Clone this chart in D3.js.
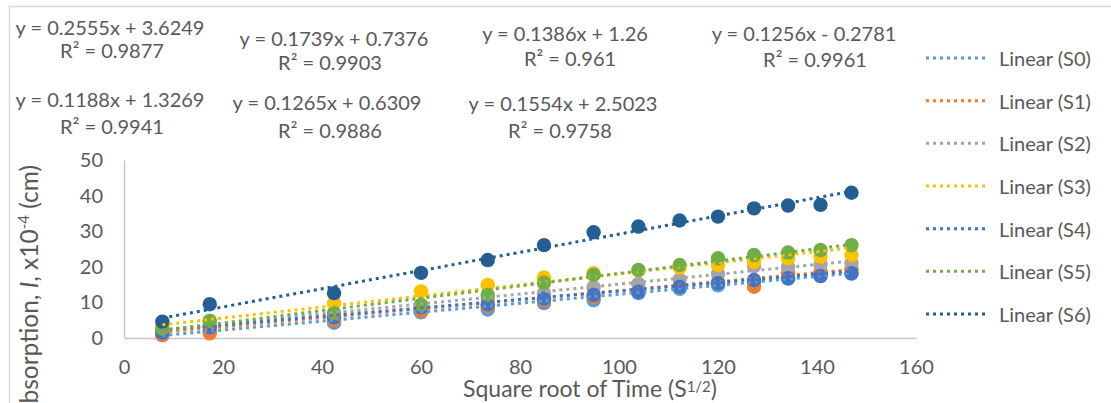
<!DOCTYPE html>
<html>
<head>
<meta charset="utf-8">
<script src="https://cdn.jsdelivr.net/npm/d3@7"></script>
<style>
  html, body { margin: 0; padding: 0; background: #ffffff; }
  svg { display: block; }
  text { font-family: Lato, "Open Sans", sans-serif; fill: #595959; }
</style>
</head>
<body>
<svg id="chart" width="1111" height="403"></svg>
<script>
// Square root of elapsed time (s^1/2) at each reading
const sqrtTime = [7.75, 17.32, 42.43, 60, 73.48, 84.85, 94.87, 103.92, 112.25, 120, 127.28, 134.16, 140.71, 146.97];

// Absorption I (x10^-4 cm) per specimen
const seriesNames = ["S0", "S1", "S2", "S3", "S4", "S5", "S6"];
const s0 = [0.9, 1.9, 4.3, 7.2, 8.0, 9.8, 10.6, 12.6, 13.8, 14.8, 15.8, 16.7, 17.5, 18.1];
const s1 = [0.8, 1.3, 5.0, 7.6, 9.0, 10.6, 11.6, 13.2, 14.5, 15.6, 14.4, 18.3, 18.6, 19.3];
const s2 = [1.8, 3.4, 6.3, 9.0, 11.0, 12.6, 14.2, 15.2, 16.4, 18.0, 20.2, 20.0, 20.6, 21.0];
const s3 = [3.5, 4.8, 9.8, 13.1, 14.9, 17.0, 18.2, 19.0, 19.8, 20.5, 21.4, 22.4, 22.8, 23.3];
const s4 = [1.5, 3.0, 5.8, 8.6, 9.5, 11.1, 12.1, 13.0, 14.4, 15.4, 16.3, 16.8, 17.4, 18.2];
const s5 = [2.6, 4.8, 7.0, 9.3, 12.1, 15.5, 17.7, 19.1, 20.5, 22.4, 23.3, 24.0, 24.7, 26.1];
const s6 = [4.6, 9.5, 12.6, 18.3, 21.9, 26.1, 29.7, 31.3, 33.0, 34.1, 36.4, 37.2, 37.4, 40.8];
const seriesValues = [s0, s1, s2, s3, s4, s5, s6];

// Linear trend fits (slope, intercept, R²) per specimen
const slopes     = [0.1256, 0.1265, 0.1386, 0.1554, 0.1188, 0.1739, 0.2555];
const intercepts = [-0.2781, 0.6309, 1.26, 2.5023, 1.3269, 0.7376, 3.6249];
const rSquared   = ["0.9961", "0.9886", "0.961", "0.9758", "0.9941", "0.9903", "0.9877"];

const colors = ["#5B9BD5", "#ED7D31", "#A5A5A5", "#FFC000", "#4472C4", "#70AD47", "#255E91"];

const xTicks = [0, 20, 40, 60, 80, 100, 120, 140, 160];
const yTicks = [0, 10, 20, 30, 40, 50];

// Where each equation / R² pair sits (centre of each line of text)
const labelPos = {
  S6: { x: 110, y: 27, rx: 112, ry: 50 },
  S5: { x: 334, y: 38, rx: 330, ry: 62 },
  S2: { x: 565, y: 33, rx: 570, ry: 58 },
  S0: { x: 804, y: 33, rx: 815, ry: 59 },
  S4: { x: 110, y: 99, rx: 112, ry: 126 },
  S1: { x: 327, y: 102, rx: 330, ry: 130 },
  S3: { x: 563, y: 103, rx: 560, ry: 130 }
};

const svg = d3.select("#chart");
const plot = { left: 124, right: 916, top: 160, bottom: 338 };

const x = d3.scaleLinear().domain([0, 160]).range([plot.left, plot.right]);
const y = d3.scaleLinear().domain([0, 50]).range([plot.bottom, plot.top]);

// Chart frame (only the top and left edges fall inside the view)
svg.append("rect")
  .attr("x", 9.5).attr("y", 6.5)
  .attr("width", 1200).attr("height", 500)
  .attr("fill", "none").attr("stroke", "#d9d9d9").attr("stroke-width", 1.5);

// Axes
const xAxis = svg.append("g")
  .attr("transform", `translate(0,${plot.bottom})`)
  .call(d3.axisBottom(x).tickValues(xTicks).tickSize(0).tickPadding(22).tickFormat(d3.format("d")));
const yAxis = svg.append("g")
  .attr("transform", `translate(${plot.left},0)`)
  .call(d3.axisLeft(y).tickValues(yTicks).tickSize(0).tickPadding(21).tickFormat(d3.format("d")));

[xAxis, yAxis].forEach(g => {
  g.select(".domain").attr("stroke", "#c6c6c6").attr("stroke-width", 1.5);
  g.selectAll(".tick text").style("font-size", "20px").attr("fill", "#595959");
});

// Axis titles
const xTitle = svg.append("text")
  .attr("x", 590).attr("y", 397)
  .attr("text-anchor", "middle")
  .style("font-size", "23px");
xTitle.append("tspan").text("Square root of Time (S");
xTitle.append("tspan").attr("baseline-shift", "35%").style("font-size", "15px").text("1/2");
xTitle.append("tspan").text(")");

const yTitle = svg.append("text")
  .attr("transform", "translate(38,165) rotate(-90)")
  .attr("text-anchor", "end")
  .style("font-size", "24.5px");
yTitle.append("tspan").text("Absorption, ");
yTitle.append("tspan").style("font-style", "italic").text("I");
yTitle.append("tspan").text(", x10");
yTitle.append("tspan").attr("baseline-shift", "super").style("font-size", "15px").text("-4");
yTitle.append("tspan").text(" (cm)");

// Observed points
seriesValues.forEach((vals, i) => {
  svg.append("g")
    .selectAll("circle")
    .data(vals.map((v, j) => [sqrtTime[j], v]))
    .join("circle")
    .attr("cx", d => x(d[0]))
    .attr("cy", d => y(d[1]))
    .attr("r", 7.2)
    .attr("fill", colors[i]);
});

// Linear trend lines over the data range
const xMin = d3.min(sqrtTime), xMax = d3.max(sqrtTime);
const line = d3.line().x(d => x(d[0])).y(d => y(d[1]));
seriesNames.forEach((name, i) => {
  const pts = [xMin, xMax].map(t => [t, slopes[i] * t + intercepts[i]]);
  svg.append("path")
    .attr("d", line(pts))
    .attr("fill", "none")
    .attr("stroke", colors[i])
    .attr("stroke-width", 3)
    .attr("stroke-dasharray", "3 4");
});

// Equation and R² labels
const fmtSigned = v => (v < 0 ? "- " : "+ ") + Math.abs(v);
seriesNames.forEach((name, i) => {
  const p = labelPos[name];
  svg.append("text")
    .attr("x", p.x).attr("y", p.y)
    .attr("text-anchor", "middle").attr("dominant-baseline", "central")
    .style("font-size", "20px").attr("fill", "#505050")
    .text(`y = ${slopes[i]}x ${fmtSigned(intercepts[i])}`);
  svg.append("text")
    .attr("x", p.rx).attr("y", p.ry)
    .attr("text-anchor", "middle").attr("dominant-baseline", "central")
    .style("font-size", "20px").attr("fill", "#505050")
    .text(`R² = ${rSquared[i]}`);
});

// Legend: trend line entries
const legendY = d3.scalePoint().domain(seriesNames).range([58, 314]);
const legend = svg.append("g");
seriesNames.forEach((name, i) => {
  const ly = legendY(name);
  legend.append("line")
    .attr("x1", 926).attr("x2", 988).attr("y1", ly).attr("y2", ly)
    .attr("stroke", colors[i]).attr("stroke-width", 3)
    .attr("stroke-dasharray", "3 4");
  legend.append("text")
    .attr("x", 999).attr("y", ly)
    .attr("dominant-baseline", "central")
    .style("font-size", "20px")
    .text(`Linear (${name})`);
});
</script>
</body>
</html>
